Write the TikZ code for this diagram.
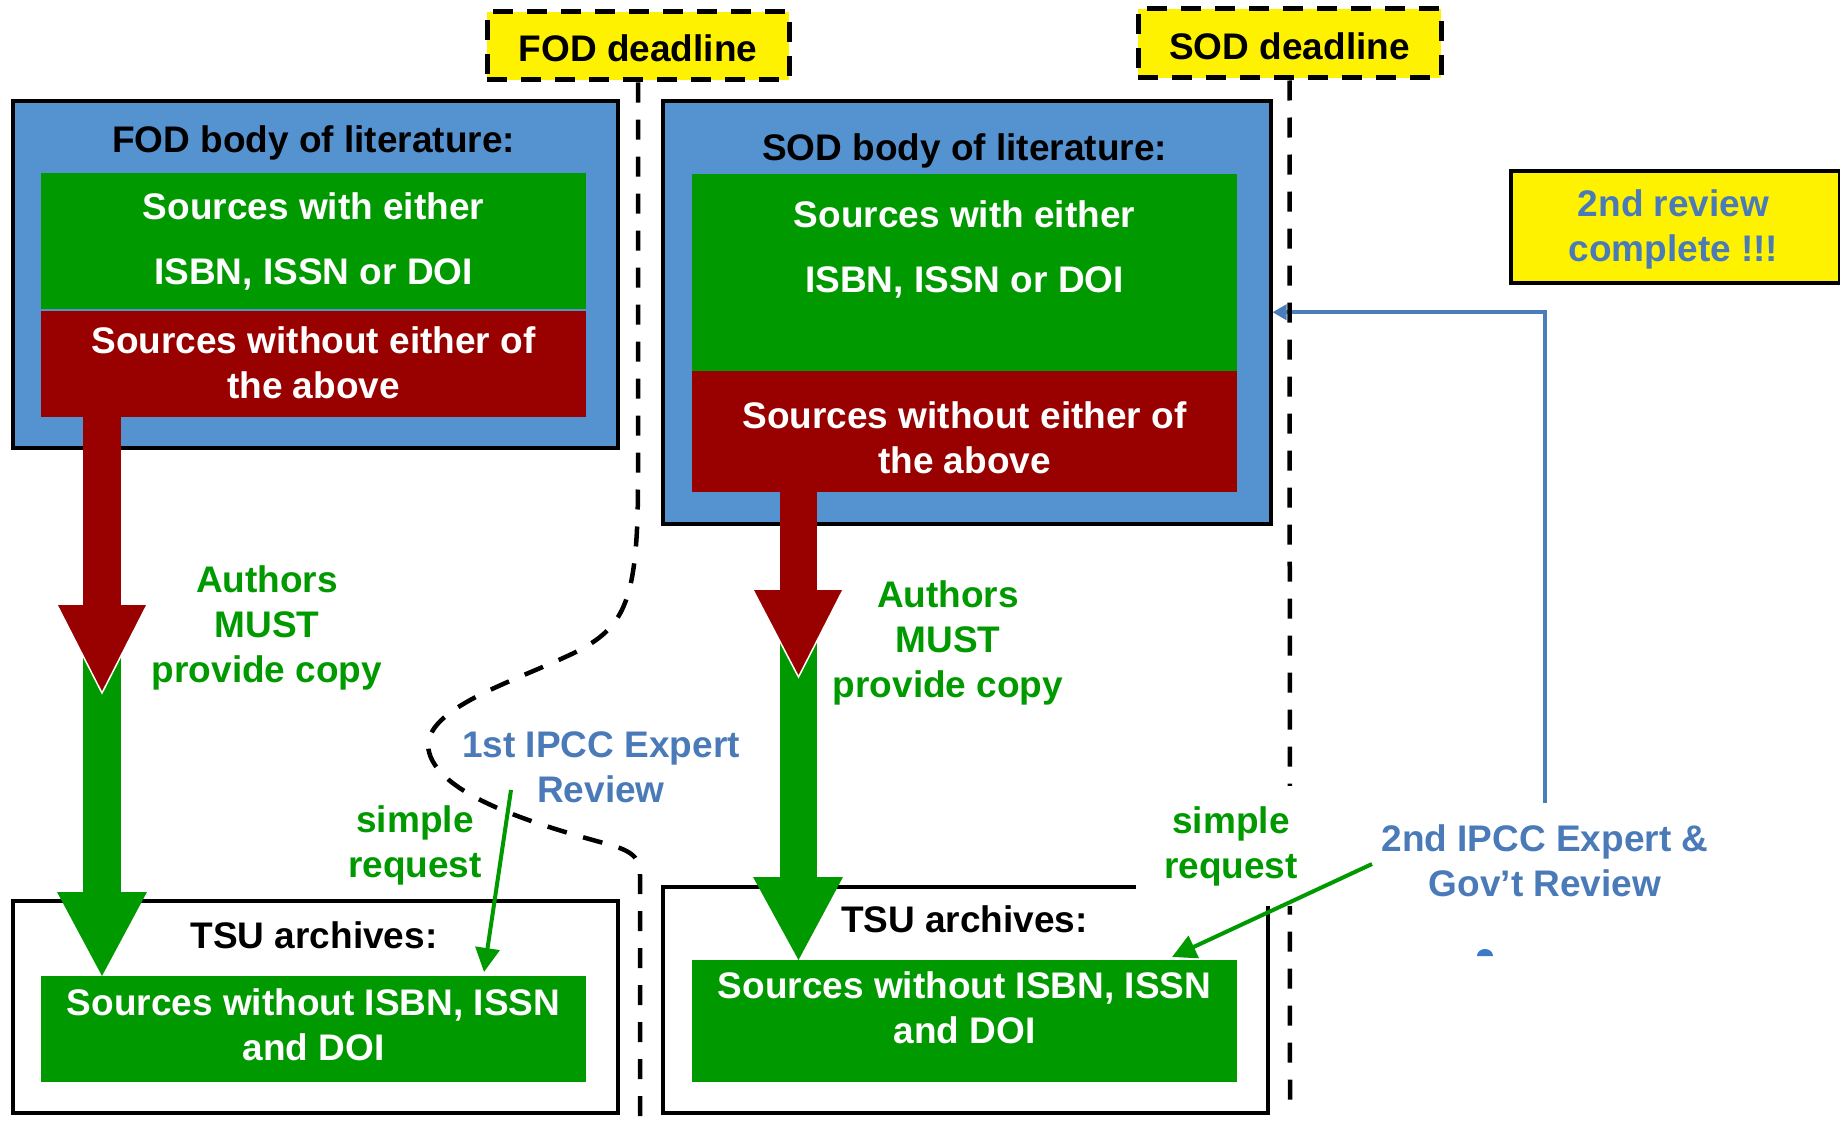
\documentclass[tikz,border=0pt]{standalone}
\usepackage{fontspec}
\setmainfont{Liberation Sans}
\usetikzlibrary{arrows.meta,calc}
\definecolor{boxblue}{RGB}{85,146,208}
\definecolor{dgreen}{RGB}{0,153,0}
\definecolor{dred}{RGB}{153,0,0}
\definecolor{txtblue}{RGB}{74,122,184}
\definecolor{lineblue}{RGB}{74,126,187}
\definecolor{blobblue}{RGB}{58,122,200}
\begin{document}
\begin{tikzpicture}[x=1pt,y=-1pt,
  every node/.style={font=\fontsize{37}{45}\selectfont\bfseries, inner sep=0pt, align=center},
  bodybox/.style={draw=black, line width=3.5pt, fill=boxblue, anchor=north west},
  tsubox/.style={draw=black, line width=3.5pt, fill=white, anchor=north west},
  panel/.style={anchor=north west},
  deadline/.style={draw=black, fill=yellow, line width=5pt, dash pattern=on 20pt off 14pt},
  vline/.style={line width=4.5pt, dash pattern=on 20pt off 17pt},
  txtw/.style={text=white},
  gtxt/.style={text=dgreen},
  btxt/.style={text=txtblue},
  thinarrow/.style={draw=dgreen, line width=4pt, -{Triangle[length=24pt,width=24pt]}},
  blueconn/.style={draw=lineblue, line width=4pt, -{Triangle[length=14pt,width=15pt]}}
]
\useasboundingbox (0,0) rectangle (1840,1124);

% deadline boxes
\node[deadline, minimum width=302pt, minimum height=68pt] (fodd) at (638,46) {};
\node (foddt) at (638,48.5) {FOD deadline};
\node[deadline, minimum width=303pt, minimum height=69pt] (sodd) at (1289.5,43.5) {};
\node (soddt) at (1289.5,46) {SOD deadline};

% body boxes
\node[bodybox, minimum width=605pt, minimum height=347pt] (fodbody) at (11,99) {};
\node[panel, fill=dgreen, minimum width=545pt, minimum height=136pt] (fodg) at (41,173) {};
\node[panel, fill=dred, minimum width=545pt, minimum height=106pt] (fodr) at (41,311) {};
\node (fodtitle) at (313.5,142.5) {FOD body of literature:};
\node[txtw] (fodgt) at (313.5,241) {Sources with either\\[20pt]ISBN, ISSN or DOI};
\node[txtw] (fodrt) at (313.5,363) {Sources without either of\\the above};

\node[bodybox, minimum width=608pt, minimum height=423pt] (sodbody) at (661,99) {};
\node[panel, fill=dgreen, minimum width=545pt, minimum height=197pt] (sodg) at (692,174) {};
\node[panel, fill=dred, minimum width=545pt, minimum height=121pt] (sodr) at (692,371) {};
\node (sodtitle) at (964.5,150.5) {SOD body of literature:};
\node[txtw] (sodgt) at (964.5,249.5) {Sources with either\\[20pt]ISBN, ISSN or DOI};
\node[txtw] (sodrt) at (964.5,438) {Sources without either of\\the above};

% TSU boxes
\node[tsubox, minimum width=605pt, minimum height=212pt] (tsu1) at (11,899) {};
\node[panel, fill=dgreen, minimum width=545pt, minimum height=106pt] (tsug1) at (41,976) {};
\node (tsu1t) at (314,935) {TSU archives:};
\node[txtw] (tsug1t) at (313.5,1025) {Sources without ISBN, ISSN\\and DOI};

\node[tsubox, minimum width=605pt, minimum height=226pt] (tsu2) at (661,885) {};
\node[panel, fill=dgreen, minimum width=545pt, minimum height=122pt] (tsug2) at (692,960) {};
\node (tsu2t) at (964.5,919) {TSU archives:};
\node[txtw] (tsug2t) at (964.5,1008) {Sources without ISBN, ISSN\\and DOI};

% fat arrows FOD
\fill[dgreen] (83,650) rectangle (121,893);
\fill[dgreen] (57,892) -- (147,892) -- (102,976) -- cycle;
\fill[dred] (83,417) rectangle (121,606);
\fill[dred] (57,605) -- (147,605) -- (102,693) -- cycle;
\draw[white, line width=1.5pt] (57,605) -- (102,693) -- (147,605);

% fat arrows SOD
\fill[dgreen] (780,640) rectangle (817,878);
\fill[dgreen] (753,877) -- (843,877) -- (798.5,960) -- cycle;
\fill[dred] (780,492) rectangle (817,591);
\fill[dred] (753,590) -- (843,590) -- (798.5,677) -- cycle;
\draw[white, line width=1.5pt] (753,590) -- (798.5,677) -- (843,590);

% second review text and blue connector
\node[btxt] (rev2) at (1545,861) {2nd IPCC Expert \&\\Gov’t Review};
\coordinate (rev2top) at ($(rev2.north)+(0,-22)$);
\draw[blueconn] (rev2top) |- (sodbody.east);

% dashed deadline lines
\draw[vline] (fodd.south) -- (638,480)
  .. controls (638,600) and (625,625) .. (580,650)
  .. controls (520,680) and (430,705) .. (428,745)
  .. controls (430,790) and (520,820) .. (600,842)
  .. controls (630,850) and (640,855) .. (640,875)
  -- (640,1124);
\draw[vline] (sodd.south) -- (1290,1108);

% labels
\node[gtxt] (auth1) at (267,628) {Authors\\MUST\\provide copy};
\node[gtxt] (auth2) at (948,643) {Authors\\MUST\\provide copy};
\node[btxt] (rev1) at (601,767) {1st IPCC Expert\\Review};
\node[gtxt] (req1) at (415,845) {simple\\request};
\node[gtxt, fill=white, inner xsep=28pt, inner ysep=20pt] (req2) at (1231,846) {simple\\request};

% thin green arrows
\coordinate (r1start) at (511,790);
\coordinate (r1end) at ($(tsug1.north west)+(443,-4)$);
\draw[thinarrow] (r1start) -- (r1end);
\coordinate (r2start) at (1372,864);
\coordinate (r2end) at ($(tsug2.north west)+(480,-3)$);
\draw[thinarrow] (r2start) -- (r2end);

% 2nd review complete box
\node[draw=black, line width=3.5pt, fill=yellow, anchor=north west, minimum width=329pt, minimum height=112pt] (done) at (1509,169) {};
\node[btxt] (donet) at (1673.5,229) {2nd review\\complete !!!};

% small blue blob
\fill[blobblue] (1477,956) arc[start angle=180, end angle=360, x radius=8, y radius=7] -- cycle;
\end{tikzpicture}
\end{document}
